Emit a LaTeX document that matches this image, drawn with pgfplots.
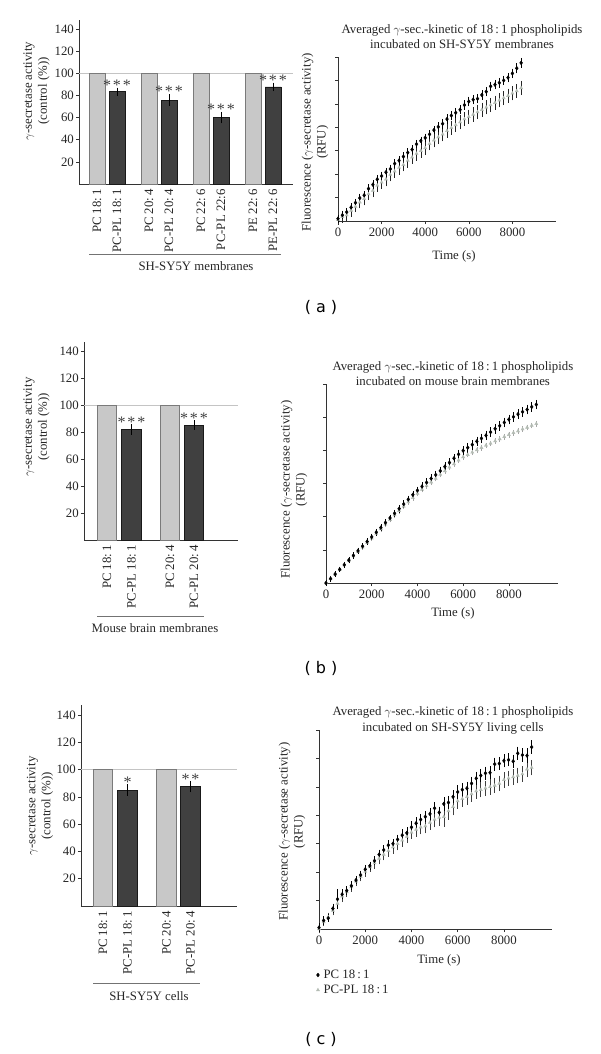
\documentclass[border=0pt]{standalone}
\usepackage{pgfplots}
\pgfplotsset{compat=1.18}
\usepackage{pgfplotstable}
\usepackage{fontspec}
\setmainfont{Liberation Serif}
\newfontfamily\labfont{DejaVu Sans}
\definecolor{lightbar}{HTML}{C8C8C8}
\definecolor{lightedge}{HTML}{7A7A7A}
\definecolor{darkbar}{HTML}{404040}
\definecolor{refline}{HTML}{C4C4C4}
\definecolor{tri}{HTML}{B4BCB4}
\definecolor{txt}{HTML}{262626}
\newcommand\tf{\fontsize{12.8}{15}\selectfont}
\newcommand\threestar{*\hspace{1.8pt}*\hspace{1.8pt}*}
\newcommand\twostar{*\hspace{1.8pt}*}
\newcommand\onestar{*}

\pgfplotstableread{
t a ea b eb
0 0.10 0.10 0.05 0.15
200 0.25 0.10 0.18 0.20
400 0.38 0.12 0.25 0.18
600 0.58 0.12 0.45 0.20
800 0.78 0.10 0.62 0.18
1000 0.98 0.12 0.80 0.20
1200 1.10 0.12 0.95 0.22
1400 1.38 0.12 1.15 0.20
1600 1.55 0.12 1.30 0.22
1800 1.78 0.12 1.52 0.20
2000 1.92 0.12 1.65 0.22
2200 2.08 0.12 1.78 0.24
2400 2.22 0.12 1.98 0.22
2600 2.45 0.12 2.12 0.22
2800 2.58 0.12 2.28 0.24
3000 2.75 0.12 2.40 0.22
3200 2.92 0.12 2.58 0.24
3400 3.05 0.12 2.72 0.22
3600 3.28 0.12 2.88 0.24
3800 3.42 0.12 3.00 0.24
4000 3.55 0.12 3.12 0.24
4200 3.70 0.12 3.30 0.22
4400 3.88 0.12 3.45 0.24
4600 4.02 0.14 3.58 0.24
4800 4.15 0.14 3.70 0.24
5000 4.35 0.14 3.85 0.24
5200 4.50 0.14 3.98 0.24
5400 4.62 0.14 4.10 0.24
5600 4.75 0.14 4.22 0.24
5800 4.95 0.14 4.35 0.24
6000 5.10 0.14 4.45 0.24
6200 5.18 0.14 4.55 0.24
6400 5.22 0.14 4.65 0.24
6600 5.38 0.14 4.75 0.24
6800 5.52 0.14 4.85 0.24
7000 5.75 0.14 4.95 0.24
7200 5.82 0.14 5.05 0.24
7400 5.90 0.14 5.15 0.24
7600 6.00 0.14 5.25 0.24
7800 6.12 0.14 5.35 0.24
8000 6.30 0.14 5.45 0.24
8200 6.52 0.15 5.55 0.24
8400 6.75 0.15 5.68 0.24
}\kinA

\pgfplotstableread{
t a ea b eb
0 0.00 0.04 0.00 0.03
200 0.13 0.04 0.13 0.03
400 0.27 0.04 0.26 0.03
600 0.41 0.04 0.40 0.03
800 0.55 0.04 0.54 0.03
1000 0.69 0.05 0.68 0.03
1200 0.83 0.05 0.81 0.03
1400 0.97 0.05 0.95 0.03
1600 1.11 0.05 1.08 0.03
1800 1.25 0.05 1.22 0.03
2000 1.39 0.05 1.35 0.03
2200 1.53 0.06 1.49 0.04
2400 1.67 0.06 1.63 0.04
2600 1.82 0.06 1.77 0.04
2800 1.96 0.06 1.91 0.04
3000 2.10 0.06 2.05 0.04
3200 2.24 0.07 2.18 0.04
3400 2.38 0.07 2.31 0.04
3600 2.52 0.07 2.44 0.04
3800 2.66 0.07 2.57 0.04
4000 2.79 0.07 2.70 0.04
4200 2.91 0.08 2.82 0.04
4400 3.03 0.08 2.93 0.04
4600 3.15 0.08 3.04 0.04
4800 3.26 0.08 3.15 0.04
5000 3.38 0.08 3.27 0.04
5200 3.51 0.09 3.38 0.04
5400 3.63 0.09 3.49 0.04
5600 3.76 0.09 3.59 0.04
5800 3.88 0.09 3.70 0.04
6000 3.99 0.09 3.80 0.04
6200 4.08 0.10 3.87 0.04
6400 4.17 0.10 3.94 0.04
6600 4.27 0.10 4.01 0.04
6800 4.36 0.10 4.08 0.04
7000 4.45 0.10 4.15 0.04
7200 4.55 0.10 4.21 0.04
7400 4.65 0.10 4.28 0.04
7600 4.74 0.10 4.34 0.04
7800 4.84 0.10 4.41 0.04
8000 4.93 0.10 4.47 0.04
8200 5.01 0.10 4.53 0.04
8400 5.09 0.10 4.58 0.04
8600 5.16 0.10 4.64 0.04
8800 5.23 0.10 4.69 0.04
9000 5.31 0.10 4.75 0.04
9200 5.38 0.10 4.80 0.04
}\kinB

\pgfplotstableread{
t a ea b eb
0 0.05 0.10 0.00 0.10
200 0.30 0.10 0.25 0.10
400 0.38 0.08 0.42 0.10
600 0.72 0.12 0.65 0.12
800 1.05 0.30 0.90 0.15
1000 1.22 0.12 1.15 0.15
1200 1.35 0.10 1.30 0.12
1400 1.52 0.10 1.48 0.12
1600 1.72 0.10 1.68 0.12
1800 1.90 0.10 1.85 0.12
2000 2.10 0.10 2.02 0.12
2200 2.22 0.10 2.18 0.12
2400 2.40 0.10 2.32 0.15
2600 2.62 0.12 2.48 0.15
2800 2.78 0.12 2.62 0.15
3000 2.95 0.12 2.75 0.15
3200 3.00 0.12 2.88 0.18
3400 3.15 0.12 3.00 0.18
3600 3.30 0.15 3.12 0.18
3800 3.38 0.15 3.25 0.18
4000 3.58 0.15 3.40 0.18
4200 3.72 0.15 3.50 0.20
4400 3.85 0.15 3.58 0.20
4600 3.95 0.15 3.62 0.20
4800 4.05 0.15 3.75 0.20
5000 4.25 0.15 3.85 0.22
5200 4.10 0.15 3.92 0.25
5400 4.40 0.18 3.95 0.30
5600 4.45 0.18 4.15 0.25
5800 4.65 0.18 4.30 0.25
6000 4.82 0.18 4.50 0.22
6200 4.90 0.18 4.58 0.22
6400 4.95 0.18 4.65 0.22
6600 5.12 0.18 4.75 0.22
6800 5.30 0.18 4.85 0.22
7000 5.40 0.18 4.90 0.22
7200 5.48 0.18 4.95 0.22
7400 5.50 0.18 5.00 0.22
7600 5.80 0.18 5.05 0.22
7800 5.82 0.18 5.12 0.22
8000 5.92 0.18 5.25 0.22
8200 5.95 0.18 5.30 0.22
8400 5.90 0.18 5.35 0.22
8600 6.18 0.18 5.40 0.22
8800 6.12 0.18 5.45 0.22
9000 6.10 0.20 5.62 0.22
9200 6.40 0.18 5.68 0.22
}\kinC

\pgfplotsset{
  common/.style={scale only axis, anchor=south west,
    axis x line*=bottom, axis y line*=left, ymin=0,
    tick align=outside, major tick length=3pt,
    axis line style={black!80, line width=0.6pt},
    tick style={black!80, line width=0.5pt},
    tick label style={font=\tf, text=txt},
    label style={font=\tf, text=txt, align=center},
    /pgf/number format/assume math mode=true,
    /pgf/number format/1000 sep={},
    scaled x ticks=false, scaled y ticks=false,
    clip=false},
  barax/.style={common, ytick={20,40,...,140},
    xtick style={draw=none},
    x tick label style={rotate=90, anchor=east, inner sep=2pt},
    y tick label style={inner sep=2pt},
    ylabel={$\gamma$-secretase activity\\(control (\%))},
    ylabel style={anchor=center}},
  lineax/.style={common, xmin=0, xtick={0,2000,4000,6000,8000}, yticklabels={},
    xlabel={Time (s)},
    ylabel={Fluorescence ($\gamma$-secretase activity)\\(RFU)},
    xlabel style={anchor=center}, ylabel style={anchor=center},
    title style={font=\fontsize{12.8}{15.5}\selectfont, text=txt, align=center, anchor=south, inner sep=1pt}},
  lightb/.style={ybar, bar shift=0pt, fill=lightbar, draw=lightedge, line width=0.6pt},
  darkb/.style={ybar, bar shift=0pt, fill=darkbar, draw=black!90, line width=0.6pt,
    error bars/y dir=both, error bars/y explicit,
    error bars/error bar style={black, line width=0.6pt},
    error bars/error mark options={black, mark size=2pt, line width=0.6pt}},
  stars/.style={draw=none, mark=none, nodes near coords, point meta=explicit symbolic,
    every node near coord/.append style={anchor=south, inner sep=0pt, font=\fontsize{16}{16}\selectfont, text=darkbar}},
  pcser/.style={only marks, mark=diamond*, mark size=1.9pt, black, mark options={fill=black, draw=black},
    error bars/y dir=both, error bars/y explicit,
    error bars/error bar style={black, line width=0.65pt},
    error bars/error mark options={black, mark size=1.5pt, line width=0.65pt}},
  plser/.style={only marks, mark=triangle*, mark size=1.8pt, tri, mark options={fill=tri, draw=tri},
    error bars/y dir=both, error bars/y explicit,
    error bars/error bar style={#1, line width=0.65pt},
    error bars/error mark options={#1, mark size=1.5pt, line width=0.65pt}},
}

\begin{document}
\begin{tikzpicture}
\fill[white] (0pt,0pt) rectangle (600pt,-1054pt);
\useasboundingbox (0pt,0pt) rectangle (600pt,-1054pt);

% ---------------- (a) bars
\begin{axis}[barax, at={(79pt,-184pt)}, width=214pt, height=164pt,
  xmin=0, xmax=214, ymax=148,
  xtick={18,38,70,90,122,142,174,194},
  xticklabels={PC 18:\,1, PC-PL 18:\,1, PC 20:\,4, PC-PL 20:\,4, PC 22:\,6, PC-PL 22:6, PE 22:\,6, PE-PL 22:\,6},
  ylabel style={at={(axis description cs:-0.199,0.567)}}]
\draw[refline, line width=0.6pt] (axis cs:0,100) -- (axis cs:214,100);
\addplot[lightb, bar width=16] coordinates {(18,100) (70,100) (122,100) (174,100)};
\addplot[darkb, bar width=16] coordinates {(38,83.3) +- (0,1.8) (90,75.8) +- (0,3.6) (142,59.9) +- (0,3.4) (194,87.6) +- (0,2.0)};
\addplot[stars] coordinates {(38,84.1)[\threestar] (90,78.4)[\threestar] (142,62.3)[\threestar] (194,88.6)[\threestar]};
\end{axis}
\draw[black!55, line width=0.6pt] (89pt,-254pt) -- (281pt,-254pt);
\node[font=\tf, text=txt] at (196pt,-266pt) {SH-SY5Y membranes};

% ---------------- (a) kinetics
\begin{axis}[lineax, at={(338pt,-221pt)}, width=218pt, height=164pt,
  xmax=10000, ymax=7, ytick={1,...,7},
  title={Averaged $\gamma$-sec.-kinetic of 18\,:\,1 phospholipids\\incubated on SH-SY5Y membranes},
  title style={at={(axis description cs:0.569,1)}, yshift=1pt},
  xlabel style={at={(axis description cs:0.532,-0.213)}},
  ylabel style={at={(axis description cs:-0.105,0.48)}}]
\addplot[plser=black!85] table[x=t, y=b, y error=eb] {\kinA};
\addplot[pcser] table[x=t, y=a, y error=ea] {\kinA};
\end{axis}

\node[font=\labfont\fontsize{16}{16}\selectfont] at (321pt,-307pt) {(\hspace{5pt}a\hspace{5pt})};

% ---------------- (b) bars
\begin{axis}[barax, at={(84pt,-540pt)}, width=154pt, height=198pt,
  xmin=0, xmax=154, ymax=146.7,
  xtick={23,47.5,86,110},
  xticklabels={PC 18:\,1, PC-PL 18:\,1, PC 20:\,4, PC-PL 20:\,4},
  ylabel style={at={(axis description cs:-0.308,0.571)}}]
\draw[refline, line width=0.6pt] (axis cs:0,100) -- (axis cs:154,100);
\addplot[lightb, bar width=19.5] coordinates {(23,100) (86,100)};
\addplot[darkb, bar width=19.5] coordinates {(47.5,82) +- (0,2.4) (110,85.2) +- (0,2.0)};
\addplot[stars] coordinates {(47.5,83.4)[\threestar] (110,86.2)[\threestar]};
\end{axis}
\draw[black!55, line width=0.6pt] (97pt,-616pt) -- (204pt,-616pt);
\node[font=\tf, text=txt] at (155pt,-628pt) {Mouse brain membranes};

% ---------------- (b) kinetics
\begin{axis}[lineax, at={(326pt,-583pt)}, width=232pt, height=199pt,
  xmax=10150, ymax=6, ytick={1,...,6},
  title={Averaged $\gamma$-sec.-kinetic of 18\,:\,1 phospholipids\\incubated on mouse brain membranes},
  title style={at={(axis description cs:0.547,1)}, yshift=-9pt},
  xlabel style={at={(axis description cs:0.547,-0.151)}},
  ylabel style={at={(axis description cs:-0.138,0.47)}}]
\addplot[plser=black!35] table[x=t, y=b, y error=eb] {\kinB};
\addplot[pcser] table[x=t, y=a, y error=ea] {\kinB};
\end{axis}

\node[font=\labfont\fontsize{16}{16}\selectfont] at (321pt,-668pt) {(\hspace{5pt}b\hspace{5pt})};

% ---------------- (c) bars
\begin{axis}[barax, at={(81pt,-906pt)}, width=156pt, height=201pt,
  xmin=0, xmax=156, ymax=147.3,
  xtick={22,46.5,85.5,109.5},
  xticklabels={PC 18:\,1, PC-PL 18:\,1, PC 20:\,4, PC-PL 20:\,4},
  ylabel style={at={(axis description cs:-0.263,0.498)}}]
\draw[refline, line width=0.6pt] (axis cs:0,100) -- (axis cs:156,100);
\addplot[lightb, bar width=19.5] coordinates {(22,100) (85.5,100)};
\addplot[darkb, bar width=19.5] coordinates {(46.5,85) +- (0,2.6) (109.5,87.4) +- (0,2.7)};
\addplot[stars] coordinates {(46.5,86.6)[\onestar] (109.5,89.1)[\twostar]};
\end{axis}
\draw[black!55, line width=0.6pt] (93pt,-983pt) -- (200pt,-983pt);
\node[font=\tf, text=txt] at (149pt,-996pt) {SH-SY5Y cells};

% ---------------- (c) kinetics
\begin{axis}[lineax, at={(319pt,-929pt)}, width=233pt, height=199pt,
  xmax=10080, ymax=7, ytick={1,...,7},
  title={Averaged $\gamma$-sec.-kinetic of 18\,:\,1 phospholipids\\incubated on SH-SY5Y living cells},
  title style={at={(axis description cs:0.575,1)}, yshift=-11pt},
  xlabel style={at={(axis description cs:0.515,-0.156)}},
  ylabel style={at={(axis description cs:-0.116,0.49)}},
  reverse legend,
  legend style={at={(axis description cs:-0.012,-0.195)}, anchor=north west, draw=none, fill=none,
    font=\tf, text=txt, row sep=1pt, inner sep=0pt,
    /tikz/every odd column/.append style={column sep=2pt}},
  legend cell align=left]
\addplot[plser=black!75] table[x=t, y=b, y error=eb] {\kinC};
\addlegendentry{PC-PL 18\,:\,1}
\addplot[pcser] table[x=t, y=a, y error=ea] {\kinC};
\addlegendentry{PC 18\,:\,1}
\end{axis}

\node[font=\labfont\fontsize{16}{16}\selectfont] at (321pt,-1039pt) {(\hspace{5pt}c\hspace{5pt})};
\end{tikzpicture}
\end{document}
